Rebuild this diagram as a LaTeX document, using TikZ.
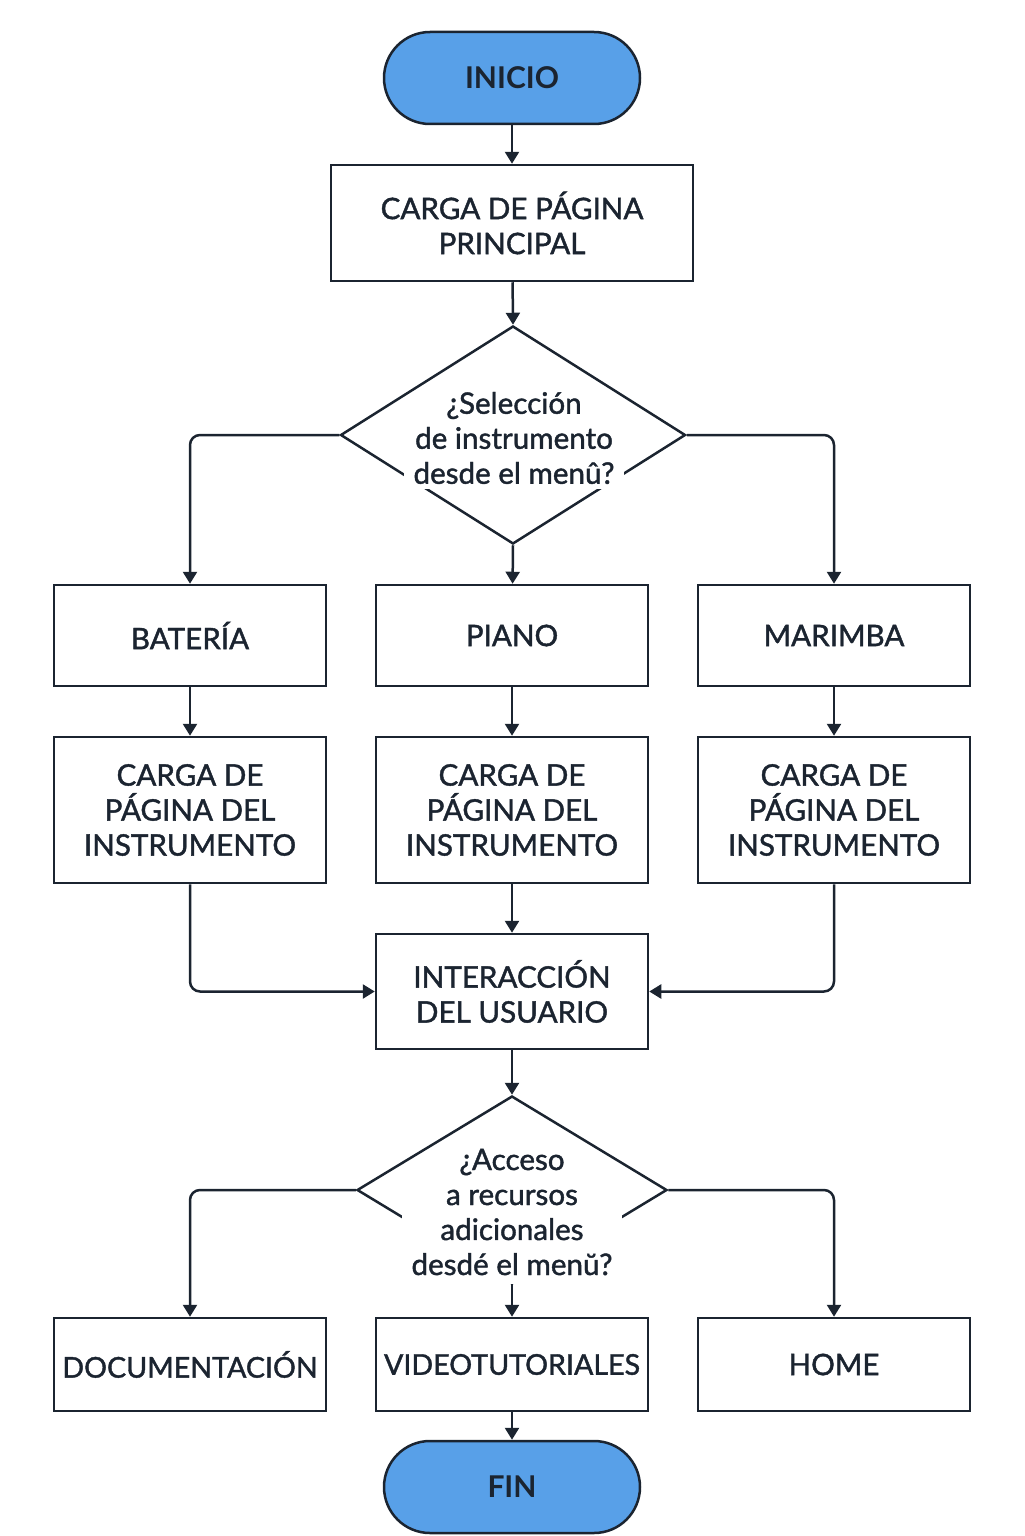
\documentclass[tikz,border=0pt]{standalone}
\usepackage{fontspec}
\setmainfont{Lato}
\newfontfamily\boxfont{Lato}[FakeBold=1.4]
\usetikzlibrary{shapes.geometric,arrows.meta}
\definecolor{ink}{HTML}{1B2430}
\definecolor{termblue}{HTML}{58A0E8}
\begin{document}
\begin{tikzpicture}[x=0.5pt,y=-0.5pt,line width=1.25pt,
  every node/.style={font=\boxfont\fontsize{14.8}{17.5}\selectfont,text=ink,align=center,inner sep=0pt},
  term/.style={draw=ink,fill=termblue,minimum width=128pt,minimum height=46pt,rounded corners=23pt,font=\fontsize{15}{18}\selectfont\bfseries},
  box/.style={draw=ink,fill=white,minimum width=136pt},
  narrow/.style={font=\boxfont\fontsize{14.3}{17.5}\selectfont},
  decision/.style={draw=ink,diamond,inner sep=0pt},
  qtext/.style={inner sep=2pt},
  flow/.style={draw=ink,rounded corners=5pt,-{Triangle[width=7pt,length=6pt]}}]
\useasboundingbox (0,0) rectangle (1024,1536);
\node[term] (inicio) at (512,78) {INICIO};
\node[box,minimum width=181pt,minimum height=58pt] (carga) at (512,223) {CARGA DE PÁGINA\\PRINCIPAL};
% first question
\node[decision,minimum width=172.5pt,minimum height=109pt] (sel) at (513,435) {};
\node[qtext] (seltxt) at (514,438) {\phantom{¿Selección}\\\phantom{de instrumento}\\\phantom{desde el menû?}};
\fill[white] ([xshift=-2pt]seltxt.south west) rectangle ([xshift=2pt,yshift=-8.5pt]seltxt.east);
\node[qtext] at (seltxt) {¿Selección\\de instrumento\\desde el menû?};
\node[box,minimum height=50.5pt] (bateria) at (190,635.5) {BATERÍA};
\node[box,minimum height=50.5pt] (piano) at (512,635.5) {PIANO};
\node[box,minimum height=50.5pt] (marimba) at (834,635.5) {MARIMBA};
\node[box,minimum height=73pt] (instA) at (190,810) {CARGA DE\\PÁGINA DEL\\INSTRUMENTO};
\node[box,minimum height=73pt] (instB) at (512,810) {CARGA DE\\PÁGINA DEL\\INSTRUMENTO};
\node[box,minimum height=73pt] (instC) at (834,810) {CARGA DE\\PÁGINA DEL\\INSTRUMENTO};
\node[box,minimum height=57.5pt] (inter) at (512,991.5) {INTERACCIÓN\\DEL USUARIO};
% second question
\node[decision,minimum width=155pt,minimum height=94pt] (acc) at (512,1190) {};
\node[qtext] (acctxt) at (512,1212) {\phantom{¿Acceso}\\\phantom{a recursos}\\\phantom{adicionales}\\\phantom{desdé el menŭ?}};
\fill[white] ([xshift=-2pt,yshift=-2pt]acctxt.south west) rectangle ([xshift=2pt,yshift=-1.5pt]acctxt.east);
\node[qtext] at (acctxt) {¿Acceso\\a recursos\\adicionales\\desdé el menŭ?};
\node[box,narrow,minimum height=46.5pt] (doc) at (190,1364.5) {DOCUMENTACIÓN};
\node[box,narrow,minimum height=46.5pt] (video) at (512,1364.5) {VIDEOTUTORIALES};
\node[box,minimum height=46.5pt] (home) at (834,1364.5) {HOME};
\node[term] (fin) at (512,1487) {FIN};
\draw[flow] (inicio) -- (carga);
\draw[flow] (carga) -- (sel.north);
\draw[flow] (sel.west) -| (bateria);
\draw[flow] (sel.south) -- (piano);
\draw[flow] (sel.east) -| (marimba);
\draw[flow] (bateria) -- (instA);
\draw[flow] (piano) -- (instB);
\draw[flow] (marimba) -- (instC);
\draw[flow] (instA) |- (inter.west);
\draw[flow] (instB) -- (inter);
\draw[flow] (instC) |- (inter.east);
\draw[flow] (inter) -- (acc.north);
\draw[flow] (acc.west) -| (doc);
\draw[flow] ([yshift=-2pt]acctxt.south) -- (video);
\draw[flow] (acc.east) -| (home);
\draw[flow] (video) -- (fin);
\end{tikzpicture}
\end{document}
